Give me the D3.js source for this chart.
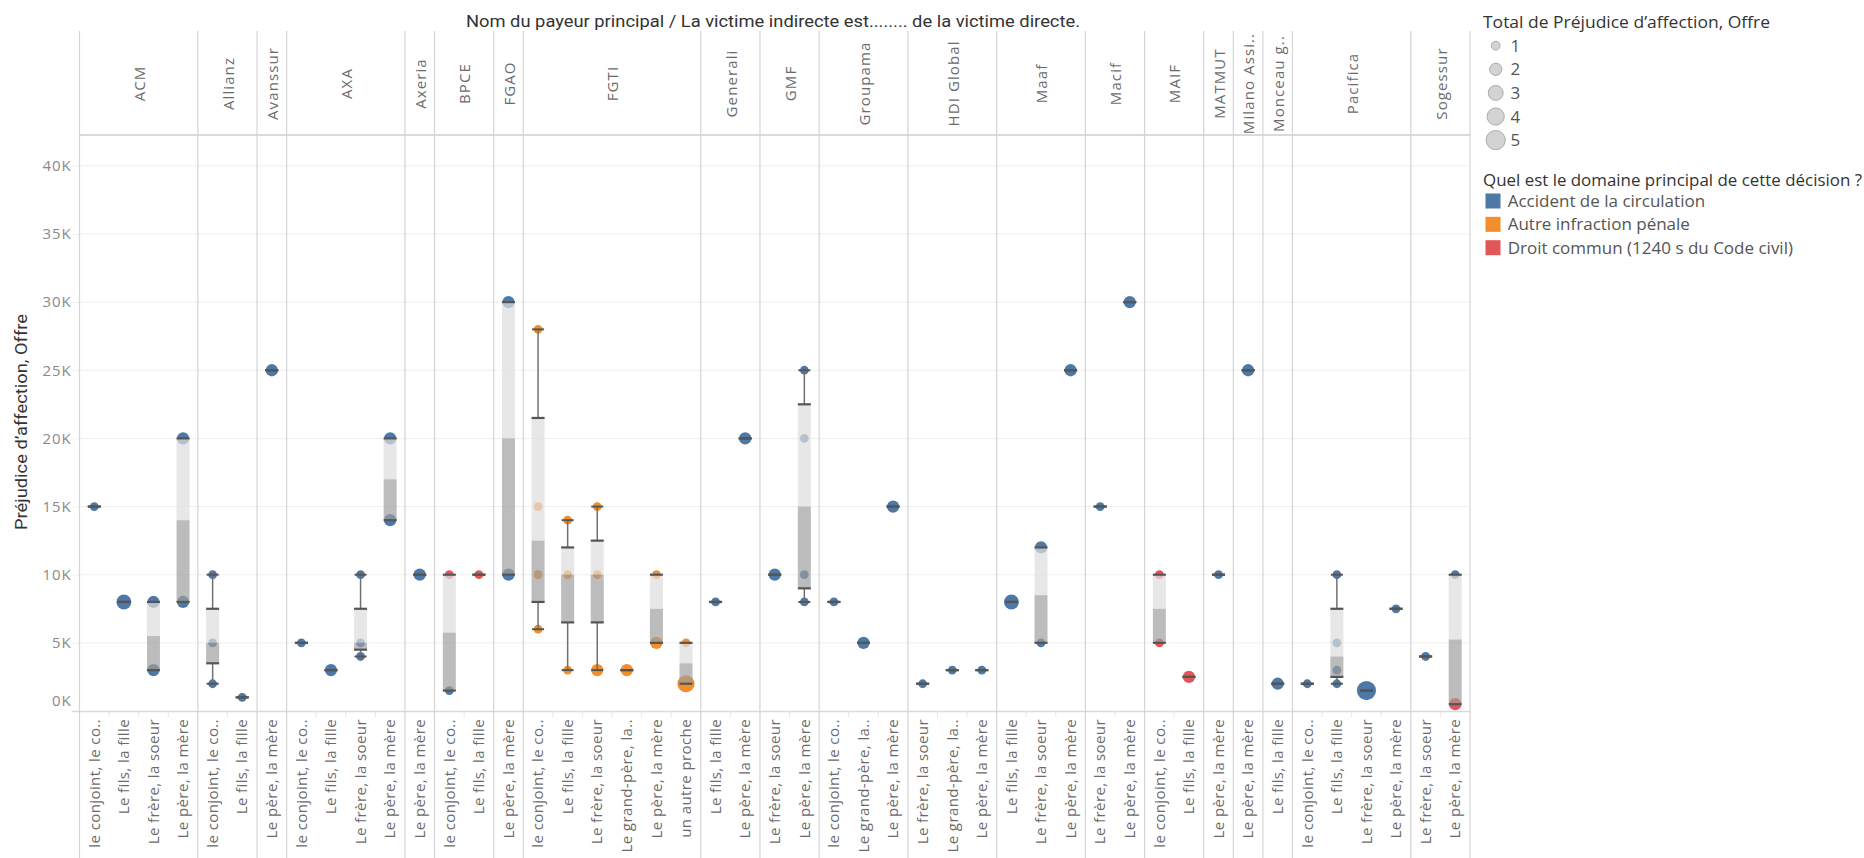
<!DOCTYPE html>
<html><head><meta charset="utf-8">
<script src="https://cdn.jsdelivr.net/npm/d3@7/dist/d3.min.js"></script>
<style>
body{margin:0;background:#fff;}
svg text{font-family:"Open Sans","Noto Sans",sans-serif;}
.cond{font-family:"Liberation Sans Narrow","Arial Narrow","Roboto","Open Sans",sans-serif !important;}
</style></head><body>
<svg id="c" width="1864" height="858"></svg>
<script>
// ---------------- DATA ----------------
const payers = ["ACM","Allianz","Avanssur","AXA","Axeria","BPCE","FGAO","FGTI","Generali","GMF","Groupama","HDI Global","Maaf","Macif","MAIF","MATMUT","Milano Assi..","Monceau g..","Pacifica","Sogessur"];
const relations = ["le conjoint, le co..","Le fils, la fille","Le frère, la soeur","Le grand-père, la..","Le père, la mère","un autre proche"];
// relations (indices into relations) present for each payer
const payerRelations = [[0,1,2,4],[0,1],[4],[0,1,2,4],[4],[0,1],[4],[0,1,2,3,4,5],[1,4],[2,4],[0,3,4],[2,3,4],[1,2,4],[2,4],[0,1],[4],[4],[1],[0,1,2,4],[2,4]];
const domains = ["Accident de la circulation","Autre infraction pénale","Droit commun (1240 s du Code civil)"];
const domainColors = ["#4e79a7","#f28e2b","#e15759"];
// one entry per mark
const pointPayer    = [0,0,0,0,0,0, 1,1,1,1, 2, 3,3,3,3,3,3,3, 4, 5,5,5, 6,6, 7,7,7,7,7,7,7,7,7,7,7,7,7,7,7, 8,8, 9,9,9,9,9, 10,10,10, 11,11,11, 12,12,12,12, 13,13, 14,14,14, 15, 16, 17, 18,18,18,18,18,18,18, 19,19,19];
const pointRelation = [0,1,2,2,4,4, 0,0,0,1, 4, 0,1,2,2,2,4,4, 4, 0,0,1, 4,4, 0,0,0,0,1,1,1,2,2,2,3,4,4,5,5, 1,4, 2,4,4,4,4, 0,3,4, 2,3,4, 1,2,2,4, 2,4, 0,0,1, 4, 4, 1, 0,1,1,1,1,2,4, 2,4,4];
const pointValue    = [15000,8000,8000,3000,20000,8000, 10000,5000,2000,1000, 25000, 5000,3000,10000,5000,4000,20000,14000, 10000, 10000,1500,10000, 30000,10000, 28000,15000,10000,6000,14000,10000,3000,15000,10000,3000,3000,10000,5000,5000,2000, 8000,20000, 10000,25000,20000,10000,8000, 8000,5000,15000, 2000,3000,3000, 8000,12000,5000,25000, 15000,30000, 10000,5000,2500, 10000, 25000, 2000, 2000,10000,5000,3000,2000,1500,7500, 4000,10000,500];
const pointDomain   = [0,0,0,0,0,0, 0,0,0,0, 0, 0,0,0,0,0,0,0, 0, 2,0,2, 0,0, 1,1,1,1,1,1,1,1,1,1,1,1,1,1,1, 0,0, 0,0,0,0,0, 0,0,0, 0,0,0, 0,0,0,0, 0,0, 2,2,2, 0, 0, 0, 0,0,0,0,0,0,0, 0,0,2];
const pointSize     = [1,3,2,2,2,2, 1,1,1,1, 2, 1,2,1,1,1,2,2, 2, 1,1,1, 2,2, 1,1,1,1,1,1,1,1,1,2,2,1,2,1,4, 1,2, 2,1,1,1,1, 1,2,2, 1,1,1, 3,2,1,2, 1,2, 1,1,2, 1, 2, 2, 1,1,1,1,1,5,1, 1,1,2];
const yTicks = [0,5000,10000,15000,20000,25000,30000,35000,40000];
const sizeLegend = [1,2,3,4,5];

// ---------------- LAYOUT ----------------
const svg = d3.select("#c");
const paneLeft = 79.5, paneRight = 1470, headerTop = 31, headerBottom = 135, paneBottom = 711, H = 858;

const cols = [];
payerRelations.forEach((rels, pi) => rels.forEach(ri => cols.push({key: pi + "|" + ri, payer: pi, rel: ri})));
const x = d3.scaleBand().domain(cols.map(c => c.key)).range([paneLeft, paneRight]);
const y = d3.scaleLinear().domain([0, 42260]).range([paneBottom, headerBottom]);
const r = d3.scaleRadial().domain([1, 5]).range([4.4, 9.6]);
const color = d3.scaleOrdinal().domain(d3.range(domains.length)).range(domainColors);

const points = pointValue.map((v, i) => ({key: pointPayer[i] + "|" + pointRelation[i], value: v, domain: pointDomain[i], size: pointSize[i]}));

// gridlines + y axis
const yAxis = d3.axisLeft(y).tickValues(yTicks).tickFormat(d => (d / 1000) + "K").tickSize(8).tickPadding(0);
const ga = svg.append("g").attr("transform", `translate(${paneLeft},0)`).call(yAxis);
ga.select(".domain").remove();
ga.selectAll(".tick line").attr("stroke", "#efefef");
ga.selectAll(".tick text").attr("fill", "#8a8a8a").style("font-size", "15px").style("letter-spacing", "0.9px");
ga.selectAll(".tick").filter(d => d === 0).select("text").attr("dy", "-0.4em");
svg.append("g").selectAll("line").data(yTicks.filter(d => d > 0)).join("line")
  .attr("x1", paneLeft).attr("x2", paneRight).attr("y1", d => y(d)).attr("y2", d => y(d))
  .attr("stroke", "#efefef").attr("stroke-width", 1);

// payer groups
const groups = payers.map((p, pi) => {
  const ks = cols.filter(c => c.payer === pi);
  const x0 = x(ks[0].key), x1 = x(ks[ks.length - 1].key) + x.bandwidth();
  return {name: p, x0, x1};
});

// frame lines
svg.append("line").attr("x1", paneLeft).attr("x2", paneRight).attr("y1", headerBottom).attr("y2", headerBottom).attr("stroke", "#dadada").attr("stroke-width", 2);
svg.append("line").attr("x1", 72).attr("x2", paneRight).attr("y1", paneBottom + 0.5).attr("y2", paneBottom + 0.5).attr("stroke", "#dadada").attr("stroke-width", 1.5);
const bounds = groups.map(g => g.x0).concat([paneRight]);
svg.append("g").selectAll("line").data(bounds).join("line")
  .attr("x1", d => d).attr("x2", d => d).attr("y1", headerTop).attr("y2", H)
  .attr("stroke", "#d4d4d4").attr("stroke-width", 1.2);
// small separators under the pane between sub-columns
svg.append("g").selectAll("line").data(cols.filter((c, i) => i > 0 && cols[i - 1].payer === c.payer)).join("line")
  .attr("x1", c => x(c.key)).attr("x2", c => x(c.key)).attr("y1", paneBottom).attr("y2", paneBottom + 6)
  .attr("stroke", "#e6e6e6");

// header labels
svg.append("g").selectAll("text").data(groups).join("text")
  .attr("transform", g => `translate(${(g.x0 + g.x1) / 2 + 1},83.5) rotate(-90)`)
  .attr("text-anchor", "middle").attr("dy", "0.35em")
  .attr("fill", "#6b6b6b").style("font-size", "15px").style("letter-spacing", "1.1px")
  .text(g => g.name);

// bottom labels
svg.append("g").selectAll("text").data(cols).join("text")
  .attr("transform", c => `translate(${x(c.key) + x.bandwidth() / 2},719) rotate(-90)`)
  .attr("text-anchor", "end").attr("dy", "0.35em")
  .attr("fill", "#6b6b6b").style("font-size", "15px").style("letter-spacing", "0.4px")
  .text(c => relations[c.rel]);

// ---------------- MARKS ----------------
const cx = k => x(k) + x.bandwidth() / 2;
svg.append("g").selectAll("circle").data(points).join("circle")
  .attr("cx", d => cx(d.key)).attr("cy", d => y(d.value)).attr("r", d => r(d.size))
  .attr("fill", d => color(d.domain));

// box plots (Tukey hinges)
function median(a){ const n=a.length; return n%2 ? a[(n-1)/2] : (a[n/2-1]+a[n/2])/2; }
const boxes = cols.map(c => {
  const v = points.filter(p => p.key === c.key).map(p => p.value).sort(d3.ascending);
  const n = v.length, m = median(v);
  const lower = v.slice(0, Math.ceil(n / 2)), upper = v.slice(Math.floor(n / 2));
  const q1 = median(lower), q3 = median(upper), iqr = q3 - q1;
  const lo = d3.min(v.filter(d => d >= q1 - 1.5 * iqr)), hi = d3.max(v.filter(d => d <= q3 + 1.5 * iqr));
  return {key: c.key, q1, q3, m, lo, hi};
});
const bw = 13, cw = 12;
const gb = svg.append("g");
boxes.forEach(b => {
  const c = cx(b.key);
  if (b.q3 > b.m) gb.append("rect").attr("x", c - bw / 2).attr("width", bw).attr("y", y(b.q3)).attr("height", y(b.m) - y(b.q3)).attr("fill", "rgb(222,222,222)").attr("fill-opacity", 0.72);
  if (b.m > b.q1) gb.append("rect").attr("x", c - bw / 2).attr("width", bw).attr("y", y(b.m)).attr("height", y(b.q1) - y(b.m)).attr("fill", "rgb(156,156,156)").attr("fill-opacity", 0.68);
  if (b.hi > b.q3) {
    gb.append("line").attr("x1", c).attr("x2", c).attr("y1", y(b.q3)).attr("y2", y(b.hi)).attr("stroke", "#707070").attr("stroke-width", 1.5);
    gb.append("line").attr("x1", c - cw / 2).attr("x2", c + cw / 2).attr("y1", y(b.hi)).attr("y2", y(b.hi)).attr("stroke", "#555").attr("stroke-width", 2);
  }
  if (b.lo < b.q1) {
    gb.append("line").attr("x1", c).attr("x2", c).attr("y1", y(b.q1)).attr("y2", y(b.lo)).attr("stroke", "#707070").attr("stroke-width", 1.5);
    gb.append("line").attr("x1", c - cw / 2).attr("x2", c + cw / 2).attr("y1", y(b.lo)).attr("y2", y(b.lo)).attr("stroke", "#555").attr("stroke-width", 2);
  }
  [b.q1, b.q3].forEach(q => gb.append("line").attr("x1", c - bw / 2).attr("x2", c + bw / 2).attr("y1", y(q)).attr("y2", y(q)).attr("stroke", "#555").attr("stroke-width", 2.2));
});

// ---------------- TITLES ----------------
svg.append("text").attr("class", "cond").attr("x", 773).attr("y", 26.5).attr("text-anchor", "middle")
  .attr("fill", "#333").style("font-size", "16px").attr("textLength", 614).attr("lengthAdjust", "spacingAndGlyphs")
  .text("Nom du payeur principal  /  La victime indirecte est........ de la victime directe.");
svg.append("text").attr("class", "cond").attr("transform", "translate(26.5,422) rotate(-90)").attr("text-anchor", "middle")
  .attr("fill", "#333").style("font-size", "16px").attr("textLength", 216).attr("lengthAdjust", "spacingAndGlyphs")
  .text("Préjudice d’affection, Offre");

// ---------------- LEGENDS ----------------
const lg = svg.append("g");
lg.append("text").attr("x", 1483).attr("y", 28).attr("fill", "#333").style("font-size", "16.5px")
  .attr("textLength", 287).attr("lengthAdjust", "spacingAndGlyphs")
  .text("Total de Préjudice d’affection, Offre");
const sl = lg.selectAll("g.s").data(sizeLegend).join("g").attr("transform", (d, i) => `translate(0,${45.7 + i * 23.6})`);
sl.append("circle").attr("cx", 1495.7).attr("cy", 0).attr("r", d => r(d)).attr("fill", "#d3d3d3").attr("stroke", "#ababab").attr("stroke-width", 1);
sl.append("text").attr("x", 1510.5).attr("y", 0).attr("dy", "0.36em").attr("fill", "#555").style("font-size", "17px").text(d => d);

lg.append("text").attr("x", 1483).attr("y", 186).attr("fill", "#333").style("font-size", "16.5px")
  .attr("textLength", 379).attr("lengthAdjust", "spacingAndGlyphs")
  .text("Quel est le domaine principal de cette décision ?");
const cl = lg.selectAll("g.c").data(domains).join("g").attr("transform", (d, i) => `translate(0,${201 + i * 23.35})`);
cl.append("rect").attr("x", 1485.5).attr("y", -7.5).attr("width", 15).attr("height", 15).attr("fill", (d, i) => color(i));
cl.append("text").attr("x", 1507.7).attr("y", 0).attr("dy", "0.36em").attr("fill", "#555").style("font-size", "17px").text(d => d);
</script>
</body></html>
